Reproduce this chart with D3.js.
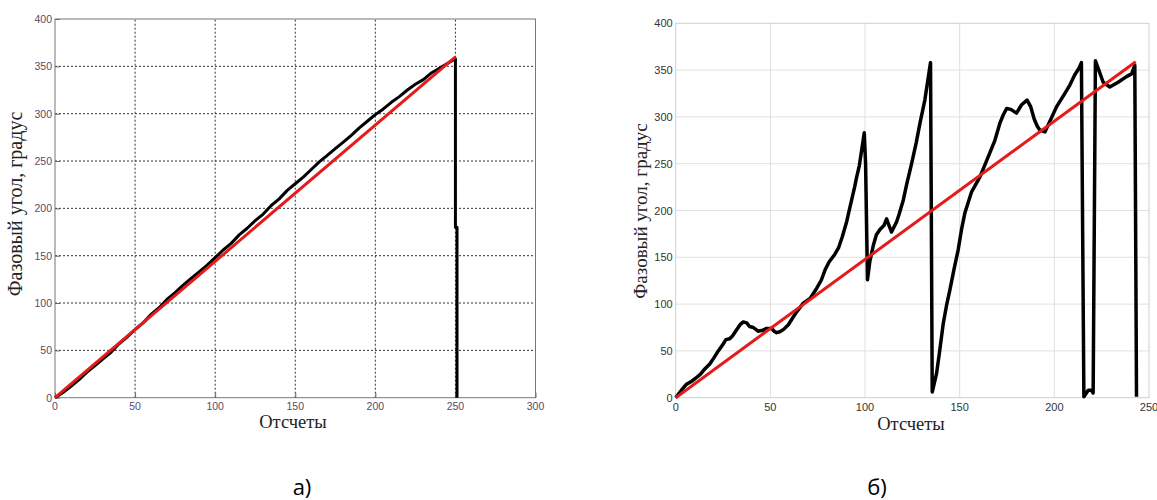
<!DOCTYPE html>
<html><head><meta charset="utf-8">
<script src="https://cdn.jsdelivr.net/npm/d3@7"></script>
<style>body{margin:0;background:#fff}svg{display:block}</style>
</head><body>
<svg id="c" width="1157" height="500"></svg>
<script>
// ---- data ----
const xTicksA = [0,50,100,150,200,250,300];
const yTicks = [0,50,100,150,200,250,300,350,400];
const xTicksB = [0,50,100,150,200,250];
// chart a) measured phase (black), sample index and degrees
const phaseA_x = [0,5,10,15,20,25,30,35,40,45,50,55,60,65,70,75,80,85,90,95,100,105,110,115,120,125,130,135,140,145,150,155,160,165,170,175,180,185,190,195,200,205,210,215,220,225,230,235,240,245,250,250,251,251];
const phaseA_y = [0,5.5,12,19,27,34,41,48,57,64,72,79,88,95,104,111,119,126,133,140,148,156,163,172,179,187,194,203,210,219,226,233,241,249,256,263,270,277,285,292,299,305,312,318,325,331,336,343,348,353,358,180,180,0];
// chart a) ideal linear phase (red)
const idealA_x = [0,250];
const idealA_y = [0,360];
// chart б) measured phase (black)
const phaseB_x = [0,3,5.5,8,10,13,15.5,18,20,22.5,25,26.5,28.5,30,32,34,35.7,37.5,39,41,43.5,46,48,50.7,52,53.3,55,57,59.5,62,64,67.4,71,74.5,77,79,81,84,86,88,90.3,92.9,94.5,95.6,97,98.2,99.6,100.3,101.3,102.5,104.3,106,108,110,111.4,112.5,114,116.7,118,120.2,122,124.6,127,129,131.6,134.6,135.5,137.8,139.5,141.3,143,144.8,147,149.2,151,152.7,156.3,160.7,165,168.6,171.2,173,174.8,177,180,182.7,185.6,187.5,189.3,191,192.3,195,197.6,201.2,204.6,208.2,210.8,213,214.3,215.6,217.9,219.6,220.5,221.7,223.5,225.8,229.3,233.7,238.1,240.8,242.5,243.4];
const phaseB_y = [0,8,14,17,20,25,31,36,42,50,57,62,63,66,72,78,81,80,76,75,71,72,74,74,71,69.5,70.5,73,78,86,92,101,106,117,126,137,145,153,160,172,188,211,225,236,248,264,283,250,126,145,162,174,180,184,191,185,177,188,196,211,228,250,272,293,318,358,6,26,51,79,98,115,137,158,180,197,220,236,257,275,293,302,309,308,304,313,318,311,298,290,286,284,295,311,322,334,345,352,358,1,8,8,5,360,350,337,332,337,343,346,355,1];
// chart б) ideal linear phase (red)
const idealB_x = [0,243];
const idealB_y = [0,359];

const xLabel = "Отсчеты";
const yLabel = "Фазовый угол, градус";

const svg = d3.select("#c");

function zip(xs, ys){ return xs.map((x,i)=>[x, ys[i]]); }

// ---------- chart a) ----------
{
  const x = d3.scaleLinear().domain([0,300]).range([55,535.5]);
  const y = d3.scaleLinear().domain([0,400]).range([397.7,19]);
  const g = svg.append("g");
  g.selectAll(".gx").data(xTicksA.slice(1,-1)).enter().append("line")
    .attr("x1",d=>x(d)).attr("x2",d=>x(d)).attr("y1",y(0)).attr("y2",y(400))
    .attr("stroke","#333").attr("stroke-width",1).attr("stroke-dasharray","2,2");
  g.selectAll(".gy").data(yTicks.slice(1,-1)).enter().append("line")
    .attr("x1",x(0)).attr("x2",x(300)).attr("y1",d=>y(d)).attr("y2",d=>y(d))
    .attr("stroke","#333").attr("stroke-width",1).attr("stroke-dasharray","2,2");
  g.append("g").attr("transform",`translate(${x(0)},0)`)
    .call(d3.axisRight(y).tickValues(yTicks).tickSize(5).tickFormat(""))
    .call(a=>a.select(".domain").remove())
    .call(a=>a.selectAll("line").attr("stroke","#666"));
  g.append("g").attr("transform",`translate(0,${y(0)})`)
    .call(d3.axisTop(x).tickValues(xTicksA).tickSize(5).tickFormat(""))
    .call(a=>a.select(".domain").remove())
    .call(a=>a.selectAll("line").attr("stroke","#666"));
  g.append("rect").attr("x",x(0)).attr("y",y(400)).attr("width",x(300)-x(0)).attr("height",y(0)-y(400))
    .attr("fill","none").attr("stroke","#777").attr("stroke-width",1);
  g.selectAll(".ty").data(yTicks).enter().append("text")
    .attr("x",x(0)-3).attr("y",d=>y(d)+4).attr("text-anchor","end")
    .attr("font-family","Liberation Sans, Arial, sans-serif").attr("font-size",10.5).attr("fill","#5b4a6b").text(d=>d);
  g.selectAll(".tx").data(xTicksA).enter().append("text")
    .attr("x",d=>x(d)).attr("y",y(0)+12.5).attr("text-anchor","middle")
    .attr("font-family","Liberation Sans, Arial, sans-serif").attr("font-size",10.5).attr("fill","#5b4a6b").text(d=>d);
  const line = d3.line().x(d=>x(d[0])).y(d=>y(d[1]));
  g.append("path").datum(zip(phaseA_x,phaseA_y)).attr("d",line)
    .attr("fill","none").attr("stroke","#000").attr("stroke-width",3).attr("stroke-linejoin","round");
  g.append("path").datum(zip(idealA_x,idealA_y)).attr("d",line)
    .attr("fill","none").attr("stroke","#e41b1b").attr("stroke-width",3);
  g.append("text").attr("x",293).attr("y",428).attr("text-anchor","middle")
    .attr("font-family","Liberation Serif, Times New Roman, serif").attr("font-size",18.5).attr("fill","#222").text(xLabel);
  g.append("text").attr("transform","translate(22,204) rotate(-90)").attr("text-anchor","middle")
    .attr("font-family","Liberation Serif, Times New Roman, serif").attr("font-size",20).attr("fill","#222").text(yLabel);
  g.append("text").attr("x",302).attr("y",495).attr("text-anchor","middle")
    .attr("font-family","Open Sans, Liberation Sans, sans-serif").attr("font-size",22).attr("fill","#000").text("а)");
}

// ---------- chart б) ----------
{
  const x = d3.scaleLinear().domain([0,250]).range([675.7,1149]);
  const y = d3.scaleLinear().domain([0,400]).range([397.7,23.3]);
  const g = svg.append("g");
  g.selectAll(".gx").data(xTicksB.slice(1,-1)).enter().append("line")
    .attr("x1",d=>x(d)).attr("x2",d=>x(d)).attr("y1",y(0)).attr("y2",y(400))
    .attr("stroke","#e0e0e0").attr("stroke-width",1);
  g.selectAll(".gy").data(yTicks.slice(1,-1)).enter().append("line")
    .attr("x1",x(0)).attr("x2",x(250)).attr("y1",d=>y(d)).attr("y2",d=>y(d))
    .attr("stroke","#e0e0e0").attr("stroke-width",1);
  g.append("rect").attr("x",x(0)).attr("y",y(400)).attr("width",x(250)-x(0)).attr("height",y(0)-y(400))
    .attr("fill","none").attr("stroke","#cfcfcf").attr("stroke-width",1);
  g.selectAll(".ty").data(yTicks).enter().append("text")
    .attr("x",x(0)-3).attr("y",d=>y(d)+4).attr("text-anchor","end")
    .attr("font-family","Liberation Sans, Arial, sans-serif").attr("font-size",11).attr("fill","#333").text(d=>d);
  g.selectAll(".tx").data(xTicksB).enter().append("text")
    .attr("x",d=>x(d)).attr("y",y(0)+13).attr("text-anchor","middle")
    .attr("font-family","Liberation Sans, Arial, sans-serif").attr("font-size",11).attr("fill","#333").text(d=>d);
  const line = d3.line().x(d=>x(d[0])).y(d=>y(d[1]));
  g.append("path").datum(zip(phaseB_x,phaseB_y)).attr("d",line)
    .attr("fill","none").attr("stroke","#000").attr("stroke-width",3.5).attr("stroke-linejoin","round");
  g.append("path").datum(zip(idealB_x,idealB_y)).attr("d",line)
    .attr("fill","none").attr("stroke","#e41b1b").attr("stroke-width",3);
  g.append("text").attr("x",911).attr("y",429.5).attr("text-anchor","middle")
    .attr("font-family","Liberation Serif, Times New Roman, serif").attr("font-size",18.5).attr("fill","#222").text(xLabel);
  g.append("text").attr("transform","translate(647,211) rotate(-90)").attr("text-anchor","middle")
    .attr("font-family","Liberation Serif, Times New Roman, serif").attr("font-size",19).attr("fill","#222").text(yLabel);
  g.append("text").attr("x",877).attr("y",495).attr("text-anchor","middle")
    .attr("font-family","Open Sans, Liberation Sans, sans-serif").attr("font-size",22).attr("fill","#000").text("б)");
}
</script>
</body></html>
